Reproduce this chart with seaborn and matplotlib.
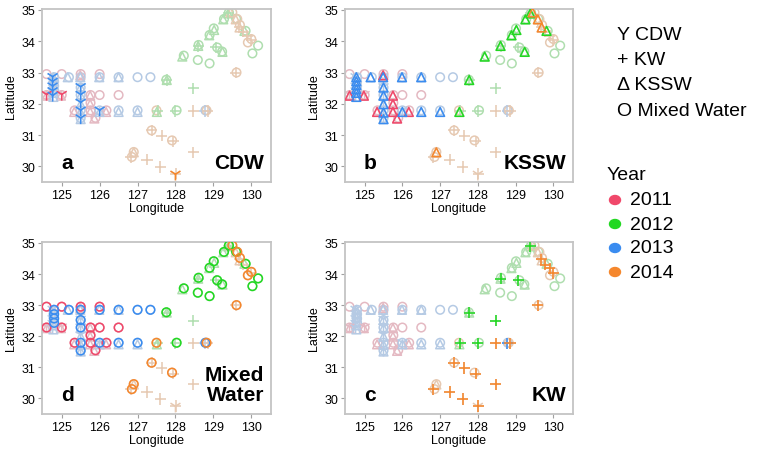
import matplotlib
matplotlib.use("Agg")
import matplotlib.pyplot as plt
import numpy as np
import pandas as pd
import seaborn as sns

# Stationen je Wassermasse: (Länge, Breite, Jahr)
cdw_lon = [124.6, 125.0, 124.76, 124.76, 124.76, 124.76, 124.76, 125.5, 125.5, 125.5, 125.5, 125.5, 126.0, 128.0]
cdw_lat = [32.3, 32.3, 32.87, 32.72, 32.57, 32.42, 32.27, 32.55, 32.3, 32.05, 31.8, 31.55, 31.8, 29.75]
cdw_year = [2011, 2011, 2013, 2013, 2013, 2013, 2013, 2013, 2013, 2013, 2013, 2013, 2013, 2014]

kw_lon = [127.77, 127.53, 128.0, 128.47, 128.6, 129.07, 129.39,
          128.78,
          128.47, 128.85, 129.68, 129.79, 129.9, 130.0, 129.59, 127.37, 127.64, 127.94, 128.47, 126.82, 127.25, 127.6, 128.01]
kw_lat = [32.76, 31.77, 31.77, 32.5, 33.85, 33.8, 34.9,
          31.77,
          31.77, 31.77, 34.47, 34.3, 34.18, 34.03, 33.0, 31.15, 30.98, 30.8, 30.45, 30.3, 30.21, 29.98, 29.76]
kw_year = [2012] * 7 + [2013] + [2014] * 15

kssw_lon = [125.49, 124.6, 124.98, 125.75, 125.75, 125.33, 125.75, 126.17, 125.86,
            127.77, 127.51, 128.18, 128.6, 128.89, 129.02, 129.24, 129.26, 129.39, 129.82,
            124.78, 124.78, 124.78, 124.78, 124.78, 124.78, 125.16, 125.49, 125.99, 126.5,
            125.5, 125.5, 125.5, 125.5, 125.5, 126.0, 126.5, 127.0,
            129.45, 129.59, 129.69, 126.9]
kssw_lat = [32.91, 32.26, 32.26, 32.26, 31.99, 31.74, 31.74, 31.74, 31.53,
            32.76, 31.74, 33.51, 33.85, 34.19, 34.36, 33.66, 34.7, 34.89, 34.33,
            32.85, 32.72, 32.6, 32.47, 32.35, 32.22, 32.85, 32.85, 32.85, 32.85,
            32.52, 32.26, 31.99, 31.72, 31.51, 31.74, 31.74, 31.74,
            34.92, 34.7, 34.44, 30.45]
kssw_year = [2011] * 9 + [2012] * 10 + [2013] * 18 + [2014] * 4

mix_lon = [124.6, 125.0, 125.5, 126.0, 124.6, 125.0, 125.76, 126.0, 126.5, 125.76, 125.34, 125.76, 126.18, 125.89,
           127.76, 128.03, 128.22, 128.59, 128.61, 128.9, 128.9, 129.01, 129.1, 129.23, 129.28, 129.41, 129.6, 129.85, 130.18, 130.03,
           124.8, 124.8, 124.8, 124.8, 125.19, 125.5, 126.0, 126.5, 127.0, 127.34, 125.5, 125.5, 125.5, 125.5, 126.0, 126.5, 127.0, 128.79,
           129.5, 129.63, 129.7, 129.91, 130.0, 129.61, 127.37, 127.91, 126.9, 126.85, 127.5, 128.82]
mix_lat = [32.95, 32.95, 32.95, 32.95, 32.28, 32.28, 32.28, 32.28, 32.28, 32.03, 31.79, 31.79, 31.79, 31.55,
           32.77, 31.79, 33.54, 33.4, 33.88, 33.29, 34.2, 34.41, 33.8, 33.67, 34.71, 34.92, 34.72, 34.33, 33.86, 33.61,
           32.85, 32.71, 32.57, 32.43, 32.85, 32.85, 32.85, 32.85, 32.85, 32.85, 32.52, 32.28, 31.79, 31.54, 31.79, 31.79, 31.79, 31.79,
           34.92, 34.71, 34.52, 33.96, 34.07, 33.0, 31.15, 30.83, 30.46, 30.3, 31.79, 31.79]
mix_year = [2011] * 14 + [2012] * 16 + [2013] * 18 + [2014] * 12

years = [2011, 2012, 2013, 2014]
farben = {2011: "#f0486a", 2012: "#22d822", 2013: "#3a8cf0", 2014: "#f5872d"}


def blass(hexfarbe, f=0.26, grund=(0.88, 0.88, 0.88)):
    r, g, b = matplotlib.colors.to_rgb(hexfarbe)
    return tuple(f * c + (1 - f) * h for c, h in zip((r, g, b), grund))


farben_blass = {j: blass(c) for j, c in farben.items()}

typen = {
    "CDW": (cdw_lon, cdw_lat, cdw_year, "1", 80, 1.1),
    "KW": (kw_lon, kw_lat, kw_year, "+", 65, 1.1),
    "KSSW": (kssw_lon, kssw_lat, kssw_year, "^", 40, 1.1),
    "Mixed": (mix_lon, mix_lat, mix_year, "o", 38, 1.1),
}
daten = {k: pd.DataFrame({"lon": v[0], "lat": v[1], "year": v[2]}) for k, v in typen.items()}

sns.set_style("white")
plt.rcParams["font.family"] = ["Liberation Sans", "DejaVu Sans"]
plt.rcParams["text.color"] = "black"
plt.rcParams["axes.labelcolor"] = "black"
plt.rcParams["xtick.labelcolor"] = "black"
plt.rcParams["ytick.labelcolor"] = "black"


def zeichne(ax, typ, pal, z):
    d = daten[typ]
    marker, s, lw = typen[typ][3], typen[typ][4], typen[typ][5]
    sns.scatterplot(data=d, x="lon", y="lat", hue="year", palette=pal, marker=marker,
                    s=s, linewidth=lw, legend=False, ax=ax, zorder=z)
    coll = ax.collections[-1]
    if marker in ("o", "^"):
        coll.set_edgecolors(coll.get_facecolors())
        coll.set_facecolors("none")


fig = plt.figure(figsize=(7.65, 4.56), dpi=100)
W, H = 765, 456
panels = [
    ("CDW", "a", "CDW", (42, 10, 271, 183)),
    ("KSSW", "b", "KSSW", (345, 10, 573, 183)),
    ("Mixed", "d", "Mixed\nWater", (42, 243, 271, 415)),
    ("KW", "c", "KW", (345, 243, 573, 415)),
]

for typ, buchstabe, name, (x0, y0, x1, y1) in panels:
    ax = fig.add_axes([x0 / W, 1 - y1 / H, (x1 - x0) / W, (y1 - y0) / H])
    for t in ["Mixed", "KSSW", "KW", "CDW"]:
        zeichne(ax, t, farben_blass, 2)
    zeichne(ax, typ, farben, 3)
    ax.set_xlim(124.48, 130.52)
    ax.set_ylim(29.5, 35.03)
    ax.set_xticks([125, 126, 127, 128, 129, 130])
    ax.set_yticks([30, 31, 32, 33, 34, 35])
    ax.tick_params(axis="both", labelsize=9, length=3, width=0.8, color="#a0a0a0",
                   direction="out", bottom=True, left=True, pad=2)
    for sp in ax.spines.values():
        sp.set_color("#c4c4c4")
        sp.set_linewidth(1.3)
    ax.set_xlabel("Longitude", fontsize=9, labelpad=1)
    ax.set_ylabel("Latitude", fontsize=9, labelpad=3)
    ax.text(0.11, 0.08, buchstabe, transform=ax.transAxes, fontsize=15, fontweight="bold",
            ha="center", va="baseline", zorder=5)
    ax.text(0.97, 0.08, name, transform=ax.transAxes, fontsize=15, fontweight="bold",
            ha="right", va="baseline", linespacing=1.05, zorder=5)

# Legende rechts als Text
for i, zeile in enumerate(["Y CDW", "+ KW", "\u0394 KSSW", "O Mixed Water"]):
    fig.text(617 / W, 1 - (35 + i * 25.5) / H, zeile, fontsize=14, va="center", ha="left")
fig.text(607 / W, 1 - 176 / H, "Year", fontsize=14, va="center", ha="left")
for i, j in enumerate(years):
    y = 1 - (201 + i * 24) / H
    fig.patches.append(matplotlib.patches.Ellipse((615 / W, y), 11 / W, 9 / H, transform=fig.transFigure,
                                                  color=farben[j], figure=fig))
    fig.text(630 / W, y, str(j), fontsize=14, va="center", ha="left")

fig.savefig("out.png", dpi=100)
